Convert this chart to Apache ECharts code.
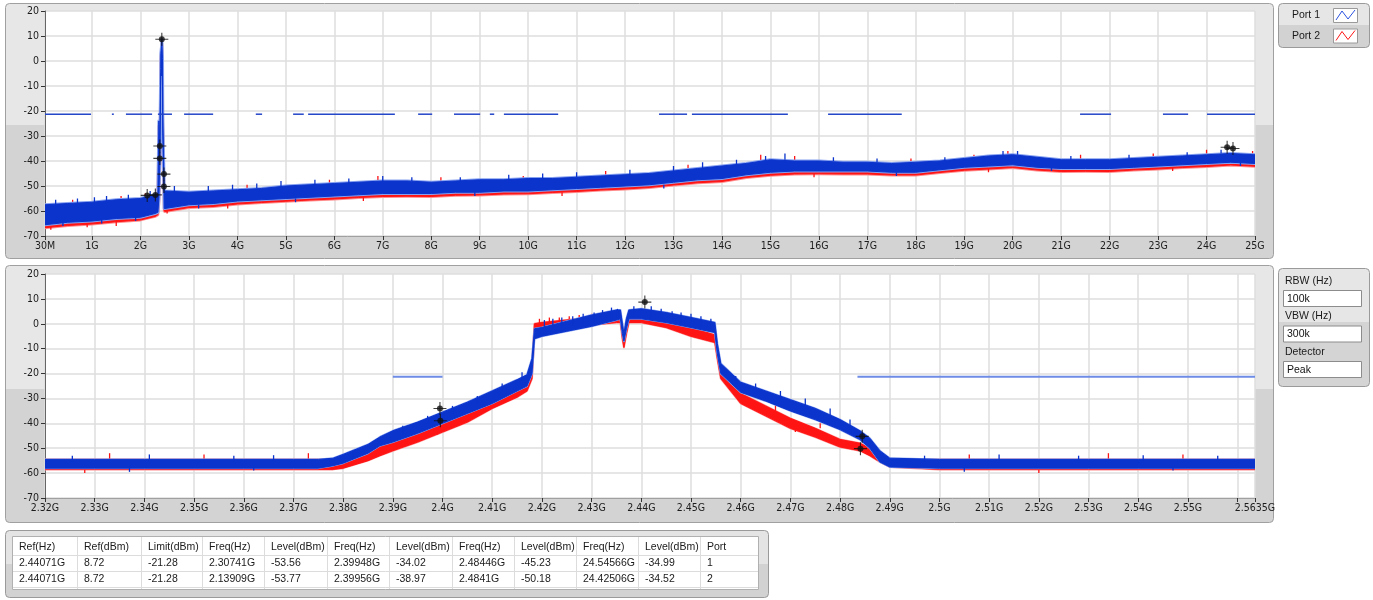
<!DOCTYPE html>
<html><head><meta charset="utf-8">
<script src="https://cdn.jsdelivr.net/npm/echarts@6/dist/echarts.min.js"></script>
<style>html,body{margin:0;padding:0;background:#fff}#c{width:1373px;height:600px}</style>
</head><body><div id="c"></div><script>
// ---------------- DATA ----------------
const Y_MIN = -70, Y_MAX = 20, Y_STEP = 10;
const TOP_X_TICKS = [0.03,1,2,3,4,5,6,7,8,9,10,11,12,13,14,15,16,17,18,19,20,21,22,23,24,25];
const BOT_X_TICKS = [2.32,2.33,2.34,2.35,2.36,2.37,2.38,2.39,2.40,2.41,2.42,2.43,2.44,2.45,2.46,2.47,2.48,2.49,2.50,2.51,2.52,2.53,2.54,2.55,2.56,2.5635];
const BOT_X_LABELS = [2.32,2.33,2.34,2.35,2.36,2.37,2.38,2.39,2.40,2.41,2.42,2.43,2.44,2.45,2.46,2.47,2.48,2.49,2.50,2.51,2.52,2.53,2.54,2.55,2.5635];
const LIMIT_DBM = -21.28;
const TOP_LIMIT_SEGMENTS = [[0.03,0.98],[1.41,1.45],[1.70,2.24],[2.36,2.65],[2.90,3.50],[4.38,4.51],[5.15,5.37],[5.46,7.25],[7.73,8.02],[8.47,9.01],[9.21,9.30],[9.50,10.62],[12.70,13.28],[13.38,15.36],[16.19,17.71],[21.39,22.03],[23.10,23.62],[24.01,25.0]];
const BOT_LIMIT_SEGMENTS = [[2.39,2.40],[2.4835,2.5635]];

// top chart (30 MHz - 25 GHz), band envelope of each trace: freq (GHz), low, high (dBm)
const TOP_FREQ    = [0.03,0.5,1,1.5,2,2.3,2.36,2.38,2.40,2.418,2.42,2.436,2.4407,2.455,2.46,2.484,2.49,2.5,3,3.5,4,4.5,5,5.5,6,6.5,7,7.5,8,8.5,9,9.5,10,10.5,11,11.5,12,12.5,13,13.5,14,14.5,15,15.5,16,16.5,17,17.5,18,18.5,19,19.5,20,20.5,21,21.5,22,22.5,23,23.5,24,24.5,25];
const TOP_P1_LO   = [-65.5,-64.5,-64,-63,-62.5,-61,-60.5,-55,-40,-8,-5,-6,-5,-5,-28,-50,-59,-59,-57.5,-57,-56,-55.5,-55,-54.5,-54,-53.5,-53,-53,-53,-52.5,-52.5,-52,-52,-51.5,-51,-50.5,-50,-49.5,-48.5,-47.5,-47,-45.5,-44.5,-44,-44,-44,-44,-44.5,-44.5,-43.5,-42.5,-42,-41.5,-42.5,-43,-43,-43,-42.5,-42,-41.5,-41,-40.5,-41];
const TOP_P1_HI   = [-57.5,-57,-56.5,-55.5,-55,-53.5,-53,-24,-34,-3,3,6,8.72,1,-22,-45,-52,-52,-52.5,-52,-51.5,-51,-50,-49.5,-49,-48.5,-48,-48,-48.5,-48,-47.5,-47.5,-47,-47,-46.5,-46,-45.5,-45,-44,-43,-42,-41,-39.5,-40,-40,-40.5,-40.5,-41,-40.5,-40,-39,-38,-37.5,-38.5,-39.5,-39.5,-39.5,-39,-38.5,-38,-37.5,-37,-37.5];
const TOP_P2_LO   = [-66.7,-65.8,-65.2,-64.3,-63.6,-62.2,-61.5,-57,-43,-10,-6,-8,-7,-8,-32,-52,-60,-60.2,-58.6,-58.2,-57.2,-56.6,-56.1,-55.6,-55.2,-54.6,-54.2,-54.1,-54.2,-53.7,-53.6,-53.2,-53.1,-52.6,-52.2,-51.6,-51.2,-50.6,-49.6,-48.7,-48.2,-46.6,-45.7,-45.2,-45.1,-45.2,-45.2,-45.6,-45.6,-44.6,-43.7,-43.2,-42.6,-43.6,-44.2,-44.1,-44.2,-43.6,-43.2,-42.6,-42.2,-41.6,-42.1];
const TOP_P2_HI   = [-58,-57.5,-57,-56,-55.5,-54,-53.5,-26,-39,-5,1,4,7,-1,-26,-50,-53,-52.5,-53,-52.5,-52,-51.5,-50.5,-50,-49.5,-49,-48.5,-48.5,-49,-48.5,-48,-48,-47.5,-47.5,-47,-46.5,-46,-45.5,-44.5,-43.5,-42.5,-41.5,-40,-40.5,-40.5,-41,-41,-41.5,-41,-40.5,-39.5,-38.5,-38,-39,-40,-40,-40,-39.5,-39,-38.5,-38,-37.5,-38];
// visible noise spikes: freq, base, tip (dBm)
const TOP_P1_SPIKES = [[0.25,-57.5,-55.5],[0.7,-57,-55],[1.05,-56.5,-54.5],[1.3,-56,-54],[1.75,-55.5,-53.5],[2.2,-54,-52],[2.7,-52,-50],[3.4,-52,-50],[3.9,-51.5,-49.5],[4.4,-51,-49],[4.9,-50,-48],[5.6,-49.5,-47.5],[6.3,-49,-47],[7.0,-48,-46],[7.6,-48,-46.5],[8.6,-48,-46.5],[9.6,-47.5,-45.5],[10.3,-47,-45],[11.0,-46.5,-44.5],[12.1,-45.5,-43.5],[13.0,-44,-42],[13.6,-43,-40.5],[14.3,-41.5,-39.5],[14.9,-40,-38],[15.3,-39.5,-37],[16.3,-40,-38.5],[17.2,-40.5,-39],[18.6,-40,-38.5],[19.8,-38,-36],[20.1,-37.5,-36],[21.2,-39.5,-38],[22.4,-39,-37.5],[23.6,-38,-36.5],[24.3,-37,-35.5],
  [0.4,-64.5,-66],[1.2,-63.5,-65],[1.9,-62.5,-64],[3.2,-57.5,-59],[5.2,-55,-56.5],[8.9,-52.5,-54],[12.8,-49.5,-51],[17.6,-44.5,-46],[20.8,-42.5,-44],[24.7,-40.5,-42]];
const TOP_P2_SPIKES = [[0.6,-58,-55.5],[1.6,-56,-54],[2.1,-55,-53],[4.2,-51.5,-49.5],[5.9,-49.5,-47.5],[6.9,-48.5,-46],[8.2,-48.5,-46.5],[9.9,-48,-46],[11.6,-46,-44],[13.3,-43.5,-41.5],[14.8,-40,-37.5],[15.5,-40,-38],[17.9,-41,-39],[19.2,-39.5,-37.5],[19.9,-38,-36],[21.4,-39.5,-37.5],[22.9,-39,-37],[24.0,-37.5,-35.5],[24.95,-37.5,-36],
  [0.15,-66,-67.5],[0.9,-65,-66.5],[1.5,-64,-66],[2.55,-59.5,-61],[3.8,-57.5,-59],[6.6,-54.5,-56],[10.7,-52.5,-54],[15.9,-45,-46.5],[19.5,-43,-44.5],[23.3,-42.5,-44]];

// bottom chart (2.32 - 2.5635 GHz)
const BOT_FREQ  = [2.32,2.33,2.34,2.35,2.36,2.37,2.375,2.378,2.38,2.385,2.3874,2.39,2.395,2.40,2.405,2.41,2.415,2.417,2.418,2.4185,2.42,2.425,2.43,2.435,2.4358,2.4362,2.4365,2.437,2.4375,2.44,2.445,2.45,2.4548,2.4553,2.456,2.46,2.465,2.47,2.475,2.48,2.484,2.486,2.488,2.49,2.50,2.51,2.52,2.53,2.54,2.55,2.5635];
const BOT_P1_LO = [-58,-58,-58,-58,-58,-58,-58,-57,-56,-52,-49,-47.5,-44,-40,-36,-32,-27,-25,-20,-6,-5,-3,-1,1.5,2,-4,-7,-2,2,2,0.5,-1.5,-3.5,-12,-20,-27.5,-31,-35,-38.5,-42.5,-46.5,-50,-55.5,-57.5,-58,-58,-58,-58,-58,-58,-58];
const BOT_P1_HI = [-54.5,-54.5,-54.5,-54.5,-54.5,-54.5,-54.5,-54,-52.5,-48.5,-45.5,-43,-39.5,-35.5,-31.5,-27,-22.5,-20.5,-14,-2,-1.5,1,3.5,5.5,5.5,0,-4,2,5.5,6,4.5,2.5,0.5,-8,-16,-23.5,-27,-30.5,-34,-38.5,-43,-46,-51,-54,-54.5,-54.5,-54.5,-54.5,-54.5,-54.5,-54.5];
const BOT_P2_LO = [-58.5,-58.5,-58.5,-58.5,-58.5,-58.5,-58.5,-58.5,-58,-55,-53,-51,-47.5,-43.5,-39.5,-34,-29.5,-27,-22,-4,-3.5,-2,-0.5,0.5,0.5,-6,-9.5,-4,0.5,0.5,-1.5,-5,-7.5,-14,-22,-32,-37,-42,-45.5,-49.5,-51,-53,-55.5,-57.5,-58.5,-58.5,-58.5,-58.5,-58.5,-58.5,-58.5];
const BOT_P2_HI = [-54.5,-54.5,-54.5,-54.5,-54.5,-54.5,-54.5,-54.5,-55,-51,-49,-47,-43,-39,-35,-29.5,-25,-23,-17,0,0.5,1.5,2.5,3.5,3.5,-2,-6,0,3.5,3.5,2,-1.5,-4.5,-10,-18,-28,-33,-38,-42,-46.5,-48,-50,-52,-54.5,-54.5,-54.5,-54.5,-54.5,-54.5,-54.5,-54.5];
const BOT_P1_SPIKES = [[2.3255,-55,-53],[2.341,-55,-52.5],[2.358,-55,-53],[2.366,-55,-52.8],[2.382,-54,-51.5],[2.392,-44,-41],[2.397,-40,-37],[2.402,-36,-33],[2.407,-32,-29],[2.412,-27,-24],[2.416,-23,-19.5],
  [2.4205,-2,1.5],[2.4222,-2,2],[2.4240,-1.5,2.5],[2.4262,-1,3],[2.4283,0,4],[2.4305,0.5,4.5],[2.4322,1,5.5],[2.4340,2,6.5],[2.4352,2.5,6],[2.4385,3,7],[2.4420,2.5,7],[2.4440,2,6],[2.4462,1,5],[2.4480,0.5,4.5],[2.4500,0,4],[2.4520,-1,3],[2.4540,-2,2],
  [2.459,-24,-21],[2.463,-27,-24],[2.468,-30,-27],[2.473,-33,-30],[2.478,-37,-34],[2.482,-41,-38.5],
  [2.497,-55,-53],[2.512,-55,-52.5],[2.528,-55,-53],[2.541,-55,-52.8],[2.556,-55,-53],
  [2.337,-57.5,-59.5],[2.362,-57.5,-59],[2.505,-57.5,-59.5],[2.547,-57.5,-59]];
const BOT_P2_SPIKES = [[2.333,-55,-52],[2.352,-55,-52.5],[2.373,-55,-52],[2.391,-48,-46],[2.403,-38,-35.5],[2.409,-31,-28.5],
  [2.4195,-0.5,2],[2.4215,0,2.5],[2.4235,0,2.5],[2.4255,0.5,3],[2.4275,1,3.5],[2.4300,1.5,4],
  [2.458,-26,-23],[2.467,-35,-32],[2.476,-42,-40],
  [2.506,-55,-52.5],[2.534,-55,-52],[2.549,-55,-52.5],
  [2.328,-58,-60],[2.399,-42,-44.5],[2.471,-41,-43.5],[2.52,-58,-60]];

// marker readings (also listed in the table)
const MARK_FREQ  = [2.44071,2.30741,2.39948,2.48446,24.54566,2.13909,2.39956,2.4841,24.42506];
const MARK_LEVEL = [8.72,-53.56,-34.02,-45.23,-34.99,-53.77,-38.97,-50.18,-34.52];

const LEGEND_LABELS = ['Port 1','Port 2'];
const SETTINGS = [['RBW (Hz)','100k'],['VBW (Hz)','300k'],['Detector','Peak']];
const TABLE_HEADER = ['Ref(Hz)','Ref(dBm)','Limit(dBm)','Freq(Hz)','Level(dBm)','Freq(Hz)','Level(dBm)','Freq(Hz)','Level(dBm)','Freq(Hz)','Level(dBm)','Port'];
const TABLE_ROWS = [
  ['2.44071G','8.72','-21.28','2.30741G','-53.56','2.39948G','-34.02','2.48446G','-45.23','24.54566G','-34.99','1'],
  ['2.44071G','8.72','-21.28','2.13909G','-53.77','2.39956G','-38.97','2.4841G','-50.18','24.42506G','-34.52','2']
];

// ---------------- STYLE ----------------
const AXFONT = "'DejaVu Sans Condensed','Liberation Sans',sans-serif";
const UIFONT = "'Liberation Sans','DejaVu Sans',sans-serif";
const BLUE = '#0b34cc', BLUE_EDGE = '#86a0f0', RED = '#ff1414', RED_EDGE = '#ff8c8c';
const LIMIT_TOP = '#2446c8', LIMIT_BOT = '#6d8ce6';

function band(xi, F, LO, HI, fill, edge, z, halo) {
  return {type:'custom', xAxisIndex:xi, yAxisIndex:xi, z, silent:true, clip:true,
    data:[[F[0], LO[0]]],
    renderItem(p, api) {
      const pts = [];
      for (let i = 0; i < F.length; i++) pts.push(api.coord([F[i], HI[i]]));
      for (let i = F.length - 1; i >= 0; i--) pts.push(api.coord([F[i], LO[i]]));
      return {type:'group', children:[
        {type:'polygon', shape:{points:pts}, style:{fill:edge, stroke:edge, lineWidth:halo, lineJoin:'round'}},
        {type:'polygon', shape:{points:pts}, style:{fill, stroke:fill, lineWidth:1}}
      ]};
    }};
}
function spikes(xi, S, color, z) {
  return {type:'custom', xAxisIndex:xi, yAxisIndex:xi, z, silent:true, clip:true, data:S,
    renderItem(p, api) {
      const a = api.coord([api.value(0), api.value(1)]), b = api.coord([api.value(0), api.value(2)]);
      return {type:'line', shape:{x1:a[0],y1:a[1],x2:b[0],y2:b[1]}, style:{stroke:color, lineWidth:1.3}};
    }};
}
function limit(xi, segs, color, w) {
  return {type:'custom', xAxisIndex:xi, yAxisIndex:xi, z:6, silent:true, clip:true, data:segs,
    renderItem(p, api) {
      const a = api.coord([api.value(0), LIMIT_DBM]), b = api.coord([api.value(1), LIMIT_DBM]);
      return {type:'line', shape:{x1:a[0],y1:a[1],x2:b[0],y2:b[1]}, style:{stroke:color, lineWidth:w}};
    }};
}
function markers(xi, lo, hi) {
  const d = [];
  MARK_FREQ.forEach((f, i) => { if (f >= lo && f <= hi) d.push([f, MARK_LEVEL[i]]); });
  return [
    {type:'scatter', xAxisIndex:xi, yAxisIndex:xi, z:10, silent:true, data:d,
     symbol:'path://M-7,-0.6H7V0.6H-7Z M-0.6,-7H0.6V7H-0.6Z', symbolSize:13, itemStyle:{color:'#111'}},
    {type:'scatter', xAxisIndex:xi, yAxisIndex:xi, z:11, silent:true, data:d,
     symbol:'circle', symbolSize:6, itemStyle:{color:'#111'}}
  ];
}
const lbl = {color:'#1c1c1c', fontSize:10.5, fontFamily:AXFONT};
function xAxis(gi, min, max, ticks, labels, fmt) {
  return {type:'value', gridIndex:gi, min, max,
    axisLine:{show:true, onZero:false, lineStyle:{color:'#a0a0a0', width:1}},
    axisTick:{show:true, length:4, customValues:ticks, lineStyle:{color:'#333'}},
    axisLabel:Object.assign({customValues:labels, margin:5, hideOverlap:false, formatter:fmt}, lbl),
    splitLine:{show:true, lineStyle:{color:'#dedede', width:1.5}}};
}
function yAxis(gi) {
  return {type:'value', gridIndex:gi, min:Y_MIN, max:Y_MAX, interval:Y_STEP,
    axisLine:{show:true, onZero:false, lineStyle:{color:'#666', width:1}},
    axisTick:{show:true, length:4, lineStyle:{color:'#333'}},
    axisLabel:Object.assign({margin:6}, lbl),
    splitLine:{show:true, lineStyle:{color:'#dedede', width:1.5}}};
}
function split(a, b, at) {
  return {type:'linear', x:0, y:0, x2:0, y2:1, colorStops:[
    {offset:0, color:a}, {offset:at, color:a}, {offset:at, color:b}, {offset:1, color:b}]};
}

// ---------------- GRAPHICS (frames, legend, settings, table) ----------------
const G = [];
G.push({type:'rect', z:-5, shape:{x:5.5,y:3.5,width:1268,height:255,r:4}, style:{fill:split('#e7e7e7','#d3d3d3',0.478), stroke:'#a0a0a0', lineWidth:1}});
G.push({type:'rect', z:-5, shape:{x:5.5,y:265.5,width:1268,height:257,r:4}, style:{fill:split('#e7e7e7','#d3d3d3',0.48), stroke:'#a0a0a0', lineWidth:1}});
// legend
G.push({type:'rect', z:-5, shape:{x:1278.5,y:3.5,width:91,height:44,r:4}, style:{fill:split('#e6e6e6','#d2d2d2',0.48), stroke:'#9a9a9a', lineWidth:1}});
LEGEND_LABELS.forEach((t, i) => {
  const y0 = 8 + i * 20.5;
  G.push({type:'text', z:20, style:{x:1292, y:y0 + 7.5, text:t, fill:'#1a1a1a', font:"10.5px " + UIFONT, textVerticalAlign:'middle'}});
  G.push({type:'rect', z:20, shape:{x:1333.5,y:y0+0.5,width:24,height:14}, style:{fill:'#fff', stroke:'#9a9a9a', lineWidth:1}});
  G.push({type:'polyline', z:21, shape:{points:[[1336,y0+12],[1342,y0+3],[1348,y0+11],[1355,y0+2]]}, style:{stroke:i ? RED : '#2a52e0', lineWidth:1, fill:null}});
});
// settings panel
G.push({type:'rect', z:-5, shape:{x:1278.5,y:268.5,width:91,height:118,r:4}, style:{fill:split('#e6e6e6','#d4d4d4',0.45), stroke:'#9a9a9a', lineWidth:1}});
SETTINGS.forEach((s, i) => {
  const y0 = 281 + i * 35.5;
  G.push({type:'text', z:20, style:{x:1285, y:y0, text:s[0], fill:'#1a1a1a', font:"10.5px " + UIFONT, textVerticalAlign:'middle'}});
  G.push({type:'rect', z:20, shape:{x:1283.5,y:y0+9.5,width:78,height:16}, style:{fill:'#fff', stroke:'#8c8c8c', lineWidth:1}});
  G.push({type:'text', z:21, style:{x:1287, y:y0+18, text:s[1], fill:'#111', font:"10.5px " + UIFONT, textVerticalAlign:'middle'}});
});
// table
const COLS = [12,77,141,202,264,327,389,452,514,576,638,700,758];
G.push({type:'rect', z:-5, shape:{x:5.5,y:530.5,width:763,height:67,r:4}, style:{fill:split('#e4e4e4','#d2d2d2',0.5), stroke:'#9a9a9a', lineWidth:1}});
G.push({type:'rect', z:15, shape:{x:12.5,y:536.5,width:746,height:53}, style:{fill:'#fff', stroke:'#b0b0b0', lineWidth:1}});
[555,571,587].forEach(y => G.push({type:'line', z:16, shape:{x1:13,y1:y+0.5,x2:758,y2:y+0.5}, style:{stroke:'#dcdcdc', lineWidth:1}}));
COLS.slice(1, -1).forEach(x => G.push({type:'line', z:16, shape:{x1:x+0.5,y1:537,x2:x+0.5,y2:589}, style:{stroke:'#dcdcdc', lineWidth:1}}));
[TABLE_HEADER].concat(TABLE_ROWS).forEach((row, r) => {
  row.forEach((t, c) => G.push({type:'text', z:17, style:{x:COLS[c] + 7, y:547 + r * 16, text:t, fill:'#1a1a1a', font:"10.5px " + UIFONT, textVerticalAlign:'middle'}}));
});

// ---------------- OPTION ----------------
const fmtTop = v => (v < 0.5 ? '30M' : Math.round(v) + 'G');
const fmtBot = v => parseFloat(v.toFixed(4)) + 'G';
const option = {
  animation:false,
  backgroundColor:'#ffffff',
  grid:[
    {left:45, top:11, width:1210, height:225, show:true, backgroundColor:'#fff', borderWidth:0},
    {left:45, top:274, width:1210, height:224, show:true, backgroundColor:'#fff', borderWidth:0}
  ],
  xAxis:[xAxis(0, 0.03, 25, TOP_X_TICKS, TOP_X_TICKS, fmtTop), xAxis(1, 2.32, 2.5635, BOT_X_TICKS, BOT_X_LABELS, fmtBot)],
  yAxis:[yAxis(0), yAxis(1)],
  graphic:{elements:G},
  series:[
    band(0, TOP_FREQ, TOP_P2_LO, TOP_P2_HI, RED, RED_EDGE, 3, 2.8),
    spikes(0, TOP_P2_SPIKES, RED, 3),
    band(0, TOP_FREQ, TOP_P1_LO, TOP_P1_HI, BLUE, BLUE_EDGE, 4, 3),
    spikes(0, TOP_P1_SPIKES, BLUE, 4),
    limit(0, TOP_LIMIT_SEGMENTS, LIMIT_TOP, 1.5),
    ...markers(0, 0.03, 25),
    band(1, BOT_FREQ, BOT_P2_LO, BOT_P2_HI, RED, RED_EDGE, 3, 2),
    spikes(1, BOT_P2_SPIKES, RED, 3),
    band(1, BOT_FREQ, BOT_P1_LO, BOT_P1_HI, BLUE, BLUE_EDGE, 4, 2),
    spikes(1, BOT_P1_SPIKES, BLUE, 4),
    limit(1, BOT_LIMIT_SEGMENTS, LIMIT_BOT, 2),
    ...markers(1, 2.32, 2.5635)
  ]
};
const chart = echarts.init(document.getElementById('c'));
chart.setOption(option);
</script></body></html>
